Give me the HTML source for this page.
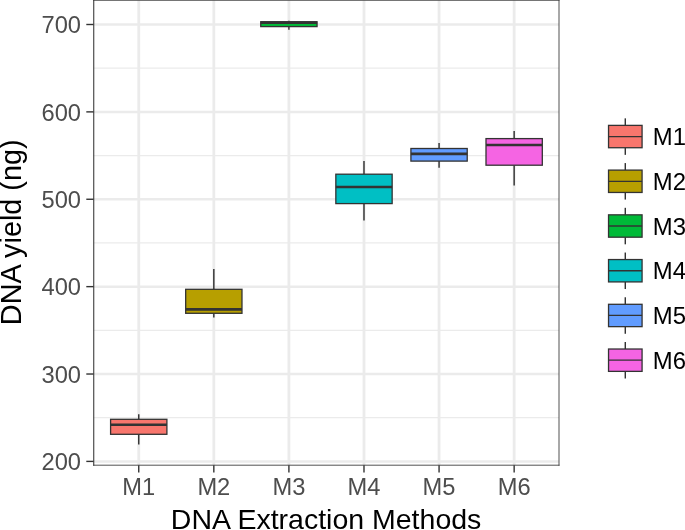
<!DOCTYPE html>
<html><head><meta charset="utf-8"><title>DNA yield boxplot</title><style>html,body{margin:0;padding:0;background:#fff;width:685px;height:530px;overflow:hidden}svg{display:block}text{font-family:"Liberation Sans",Arial,sans-serif}</style></head><body>
<svg width="685" height="530" viewBox="0 0 685 530">
<rect x="0" y="0" width="685" height="530" fill="#fff"/>
<g stroke="#EBEBEB"><line x1="93.6" x2="559.0" y1="68.19" y2="68.19" stroke-width="1.2"/><line x1="93.6" x2="559.0" y1="155.57" y2="155.57" stroke-width="1.2"/><line x1="93.6" x2="559.0" y1="242.95" y2="242.95" stroke-width="1.2"/><line x1="93.6" x2="559.0" y1="330.33" y2="330.33" stroke-width="1.2"/><line x1="93.6" x2="559.0" y1="417.71" y2="417.71" stroke-width="1.2"/><line x1="93.6" x2="559.0" y1="24.50" y2="24.50" stroke-width="2.5"/><line x1="93.6" x2="559.0" y1="111.88" y2="111.88" stroke-width="2.5"/><line x1="93.6" x2="559.0" y1="199.26" y2="199.26" stroke-width="2.5"/><line x1="93.6" x2="559.0" y1="286.64" y2="286.64" stroke-width="2.5"/><line x1="93.6" x2="559.0" y1="374.02" y2="374.02" stroke-width="2.5"/><line x1="93.6" x2="559.0" y1="461.40" y2="461.40" stroke-width="2.5"/><line x1="138.75" x2="138.75" y1="0.3" y2="465.2" stroke-width="2.8"/><line x1="213.83" x2="213.83" y1="0.3" y2="465.2" stroke-width="2.8"/><line x1="288.91" x2="288.91" y1="0.3" y2="465.2" stroke-width="2.8"/><line x1="363.99" x2="363.99" y1="0.3" y2="465.2" stroke-width="2.8"/><line x1="439.07" x2="439.07" y1="0.3" y2="465.2" stroke-width="2.8"/><line x1="514.15" x2="514.15" y1="0.3" y2="465.2" stroke-width="2.8"/></g>
<g stroke="#333333"><line x1="138.75" x2="138.75" y1="414.2" y2="419.3" stroke-width="1.45"/><line x1="138.75" x2="138.75" y1="434.3" y2="444.4" stroke-width="1.45"/><rect x="110.59" y="419.3" width="56.31" height="15.00" fill="#F8766D" stroke-width="1.3"/><line x1="110.59" x2="166.91" y1="424.7" y2="424.7" stroke-width="2.6"/><line x1="213.83" x2="213.83" y1="269.1" y2="289.3" stroke-width="1.45"/><line x1="213.83" x2="213.83" y1="313.3" y2="317.6" stroke-width="1.45"/><rect x="185.67" y="289.3" width="56.31" height="24.00" fill="#B79F00" stroke-width="1.3"/><line x1="185.67" x2="241.98" y1="309.4" y2="309.4" stroke-width="2.6"/><line x1="288.91" x2="288.91" y1="20.7" y2="21.75" stroke-width="1.45"/><line x1="288.91" x2="288.91" y1="26.6" y2="29.8" stroke-width="1.45"/><rect x="260.75" y="21.75" width="56.31" height="4.85" fill="#00BA38" stroke-width="1.3"/><line x1="260.75" x2="317.06" y1="22.75" y2="22.75" stroke-width="2.6"/><line x1="363.99" x2="363.99" y1="160.9" y2="174.2" stroke-width="1.45"/><line x1="363.99" x2="363.99" y1="203.6" y2="220.5" stroke-width="1.45"/><rect x="335.84" y="174.2" width="56.31" height="29.40" fill="#00BFC4" stroke-width="1.3"/><line x1="335.84" x2="392.14" y1="187.0" y2="187.0" stroke-width="2.6"/><line x1="439.07" x2="439.07" y1="143.1" y2="148.5" stroke-width="1.45"/><line x1="439.07" x2="439.07" y1="161.1" y2="167.8" stroke-width="1.45"/><rect x="410.91" y="148.5" width="56.31" height="12.60" fill="#619CFF" stroke-width="1.3"/><line x1="410.91" x2="467.23" y1="153.9" y2="153.9" stroke-width="2.6"/><line x1="514.15" x2="514.15" y1="131.0" y2="138.6" stroke-width="1.45"/><line x1="514.15" x2="514.15" y1="165.2" y2="185.5" stroke-width="1.45"/><rect x="486.00" y="138.6" width="56.31" height="26.60" fill="#F564E3" stroke-width="1.3"/><line x1="486.00" x2="542.30" y1="145.0" y2="145.0" stroke-width="2.6"/></g>
<g stroke="#333333" stroke-linecap="square"><line x1="93.75" x2="93.75" y1="0.3" y2="465.2" stroke-width="1.05"/><line x1="559.0" x2="559.0" y1="0.3" y2="465.2" stroke-width="0.85"/><line x1="93.75" x2="559.0" y1="0.3" y2="0.3" stroke-width="0.85"/><line x1="93.75" x2="559.0" y1="465.2" y2="465.2" stroke-width="0.85"/></g>
<g stroke="#333333" stroke-width="1.4"><line x1="86.30" x2="93.6" y1="24.50" y2="24.50"/><line x1="86.30" x2="93.6" y1="111.88" y2="111.88"/><line x1="86.30" x2="93.6" y1="199.26" y2="199.26"/><line x1="86.30" x2="93.6" y1="286.64" y2="286.64"/><line x1="86.30" x2="93.6" y1="374.02" y2="374.02"/><line x1="86.30" x2="93.6" y1="461.40" y2="461.40"/><line x1="138.75" x2="138.75" y1="465.2" y2="472.50"/><line x1="213.83" x2="213.83" y1="465.2" y2="472.50"/><line x1="288.91" x2="288.91" y1="465.2" y2="472.50"/><line x1="363.99" x2="363.99" y1="465.2" y2="472.50"/><line x1="439.07" x2="439.07" y1="465.2" y2="472.50"/><line x1="514.15" x2="514.15" y1="465.2" y2="472.50"/></g>
<g fill="#4D4D4D" font-size="23.7"><text x="81.0" y="33.20" text-anchor="end">700</text><text x="81.0" y="120.58" text-anchor="end">600</text><text x="81.0" y="207.96" text-anchor="end">500</text><text x="81.0" y="295.34" text-anchor="end">400</text><text x="81.0" y="382.72" text-anchor="end">300</text><text x="81.0" y="470.10" text-anchor="end">200</text><text x="138.75" y="495.0" text-anchor="middle">M1</text><text x="213.83" y="495.0" text-anchor="middle">M2</text><text x="288.91" y="495.0" text-anchor="middle">M3</text><text x="363.99" y="495.0" text-anchor="middle">M4</text><text x="439.07" y="495.0" text-anchor="middle">M5</text><text x="514.15" y="495.0" text-anchor="middle">M6</text></g>
<text x="326.1" y="528.6" font-size="28.5" fill="#000" text-anchor="middle">DNA Extraction Methods</text>
<text transform="translate(20.8 232.3) rotate(-90)" font-size="28.8" fill="#000" text-anchor="middle">DNA yield (ng)</text>
<g stroke="#333333"><line x1="625.30" x2="625.30" y1="118.35" y2="125.38" stroke-width="1.45"/><line x1="625.30" x2="625.30" y1="147.73" y2="154.85" stroke-width="1.45"/><rect x="608.54" y="125.38" width="33.53" height="22.35" fill="#F8766D" stroke-width="1.3"/><line x1="608.54" x2="642.06" y1="136.55" y2="136.55" stroke-width="1.3"/><line x1="625.30" x2="625.30" y1="163.08" y2="170.11" stroke-width="1.45"/><line x1="625.30" x2="625.30" y1="192.46" y2="199.58" stroke-width="1.45"/><rect x="608.54" y="170.11" width="33.53" height="22.35" fill="#B79F00" stroke-width="1.3"/><line x1="608.54" x2="642.06" y1="181.28" y2="181.28" stroke-width="1.3"/><line x1="625.30" x2="625.30" y1="207.81" y2="214.84" stroke-width="1.45"/><line x1="625.30" x2="625.30" y1="237.19" y2="244.31" stroke-width="1.45"/><rect x="608.54" y="214.84" width="33.53" height="22.35" fill="#00BA38" stroke-width="1.3"/><line x1="608.54" x2="642.06" y1="226.01" y2="226.01" stroke-width="1.3"/><line x1="625.30" x2="625.30" y1="252.54" y2="259.56" stroke-width="1.45"/><line x1="625.30" x2="625.30" y1="281.92" y2="289.04" stroke-width="1.45"/><rect x="608.54" y="259.56" width="33.53" height="22.35" fill="#00BFC4" stroke-width="1.3"/><line x1="608.54" x2="642.06" y1="270.74" y2="270.74" stroke-width="1.3"/><line x1="625.30" x2="625.30" y1="297.27" y2="304.30" stroke-width="1.45"/><line x1="625.30" x2="625.30" y1="326.64" y2="333.77" stroke-width="1.45"/><rect x="608.54" y="304.30" width="33.53" height="22.35" fill="#619CFF" stroke-width="1.3"/><line x1="608.54" x2="642.06" y1="315.47" y2="315.47" stroke-width="1.3"/><line x1="625.30" x2="625.30" y1="342.00" y2="349.02" stroke-width="1.45"/><line x1="625.30" x2="625.30" y1="371.38" y2="378.50" stroke-width="1.45"/><rect x="608.54" y="349.02" width="33.53" height="22.35" fill="#F564E3" stroke-width="1.3"/><line x1="608.54" x2="642.06" y1="360.20" y2="360.20" stroke-width="1.3"/></g>
<g fill="#000" font-size="23.9"><text x="652.85" y="145.15">M1</text><text x="652.85" y="189.88">M2</text><text x="652.85" y="234.61">M3</text><text x="652.85" y="279.34">M4</text><text x="652.85" y="324.07">M5</text><text x="652.85" y="368.80">M6</text></g>
</svg>
</body></html>
